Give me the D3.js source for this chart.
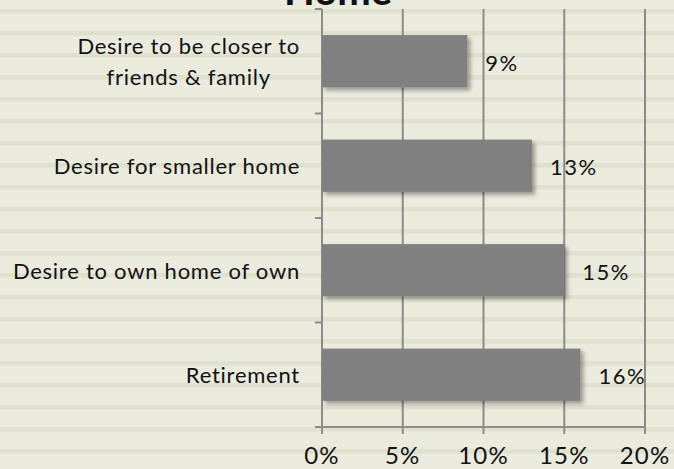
<!DOCTYPE html>
<html>
<head>
<meta charset="utf-8">
<script src="https://cdn.jsdelivr.net/npm/d3@7/dist/d3.min.js"></script>
<style>
  html, body { margin: 0; padding: 0; background: #eaeadd; }
  svg { display: block; }
  text { font-family: Lato, "Open Sans", sans-serif; fill: #111; }
</style>
</head>
<body>
<svg id="chart" width="674" height="469"></svg>
<script>
// Reasons for moving – share of respondents
const categories = [
  ["Desire to be closer to", "friends & family"],
  ["Desire for smaller home"],
  ["Desire to own home of own"],
  ["Retirement"]
];
const values = [0.09, 0.13, 0.15, 0.16];
const valueLabels = ["9%", "13%", "15%", "16%"];
const xTicks = [0, 0.05, 0.10, 0.15, 0.20];
const xTickLabels = ["0%", "5%", "10%", "15%", "20%"];
const titleText = "Home";

const W = 674, H = 469;
const svg = d3.select("#chart");

// striped paper background
svg.append("rect").attr("width", W).attr("height", H).attr("fill", "#eaeadd");
const stripeY = d3.range(-13, H, 22);
svg.append("g").selectAll("rect").data(stripeY).join("rect")
  .attr("x", 0).attr("y", d => d).attr("width", W).attr("height", 4.5)
  .attr("fill", "#dfe0ce");

// shadow for bars
const defs = svg.append("defs");
defs.append("filter").attr("id", "barShadow")
  .attr("x", "-10%").attr("y", "-20%").attr("width", "130%").attr("height", "160%")
  .append("feDropShadow")
  .attr("dx", 3).attr("dy", 3).attr("stdDeviation", 2)
  .attr("flood-color", "#000").attr("flood-opacity", 0.35);

const plotTop = 9, plotBottom = 427, plotLeft = 322, plotRight = 645;
const x = d3.scaleLinear().domain([0, 0.20]).range([plotLeft, plotRight]);
const y = d3.scaleBand().domain(d3.range(categories.length))
  .range([plotTop, plotBottom]).paddingInner(0.5).paddingOuter(0.25);

const gridColor = "#8b8b8b";

// vertical gridlines (extend slightly below the axis as ticks)
svg.append("g").selectAll("line").data(xTicks).join("line")
  .attr("x1", d => x(d)).attr("x2", d => x(d))
  .attr("y1", plotTop).attr("y2", plotBottom + 7)
  .attr("stroke", gridColor).attr("stroke-width", 2);

// category-axis ticks at band boundaries
const boundaries = d3.range(categories.length).map(i => y(i) - y.step() * y.paddingInner() / 2);
svg.append("g").selectAll("line").data(boundaries).join("line")
  .attr("x1", plotLeft - 7).attr("x2", plotLeft)
  .attr("y1", d => d).attr("y2", d => d)
  .attr("stroke", gridColor).attr("stroke-width", 2);

// value axis baseline
svg.append("line")
  .attr("x1", plotLeft - 7).attr("x2", plotRight)
  .attr("y1", plotBottom).attr("y2", plotBottom)
  .attr("stroke", gridColor).attr("stroke-width", 2);

// bars
svg.append("g").selectAll("rect").data(values).join("rect")
  .attr("x", x(0)).attr("y", (d, i) => y(i))
  .attr("width", d => x(d) - x(0)).attr("height", y.bandwidth())
  .attr("fill", "#808080").attr("filter", "url(#barShadow)");

// value labels
svg.append("g").selectAll("text").data(values).join("text")
  .attr("x", d => x(d) + 18)
  .attr("y", (d, i) => y(i) + y.bandwidth() / 2 + 1)
  .attr("dominant-baseline", "central")
  .attr("font-size", 22).attr("letter-spacing", 1.5)
  .text((d, i) => valueLabels[i]);

// category labels (multi-line labels centered on their widest line, right-aligned block)
const catG = svg.append("g");
categories.forEach((lines, i) => {
  const cy = y(i) + y.bandwidth() / 2;
  const lineH = 31;
  const t = catG.append("text").attr("font-size", 22).attr("letter-spacing", 0.75)
    .attr("text-anchor", "middle");
  lines.forEach((ln, j) => {
    t.append("tspan").attr("y", cy + (j - (lines.length - 1) / 2) * lineH)
      .attr("dominant-baseline", "central").text(ln);
  });
  const tspans = t.selectAll("tspan").nodes();
  const maxW = d3.max(tspans, n => n.getComputedTextLength());
  t.selectAll("tspan").attr("x", 300 - maxW / 2);
});

// value-axis tick labels
svg.append("g").selectAll("text").data(xTicks).join("text")
  .attr("x", d => x(d)).attr("y", 464)
  .attr("text-anchor", "middle").attr("font-size", 24).attr("letter-spacing", 1.2)
  .text((d, i) => xTickLabels[i]);

// title (runs off the top edge)
svg.append("text").attr("x", 338).attr("y", 5)
  .attr("text-anchor", "middle").attr("font-size", 40).attr("font-weight", "bold")
  .text(titleText);
</script>
</body>
</html>
